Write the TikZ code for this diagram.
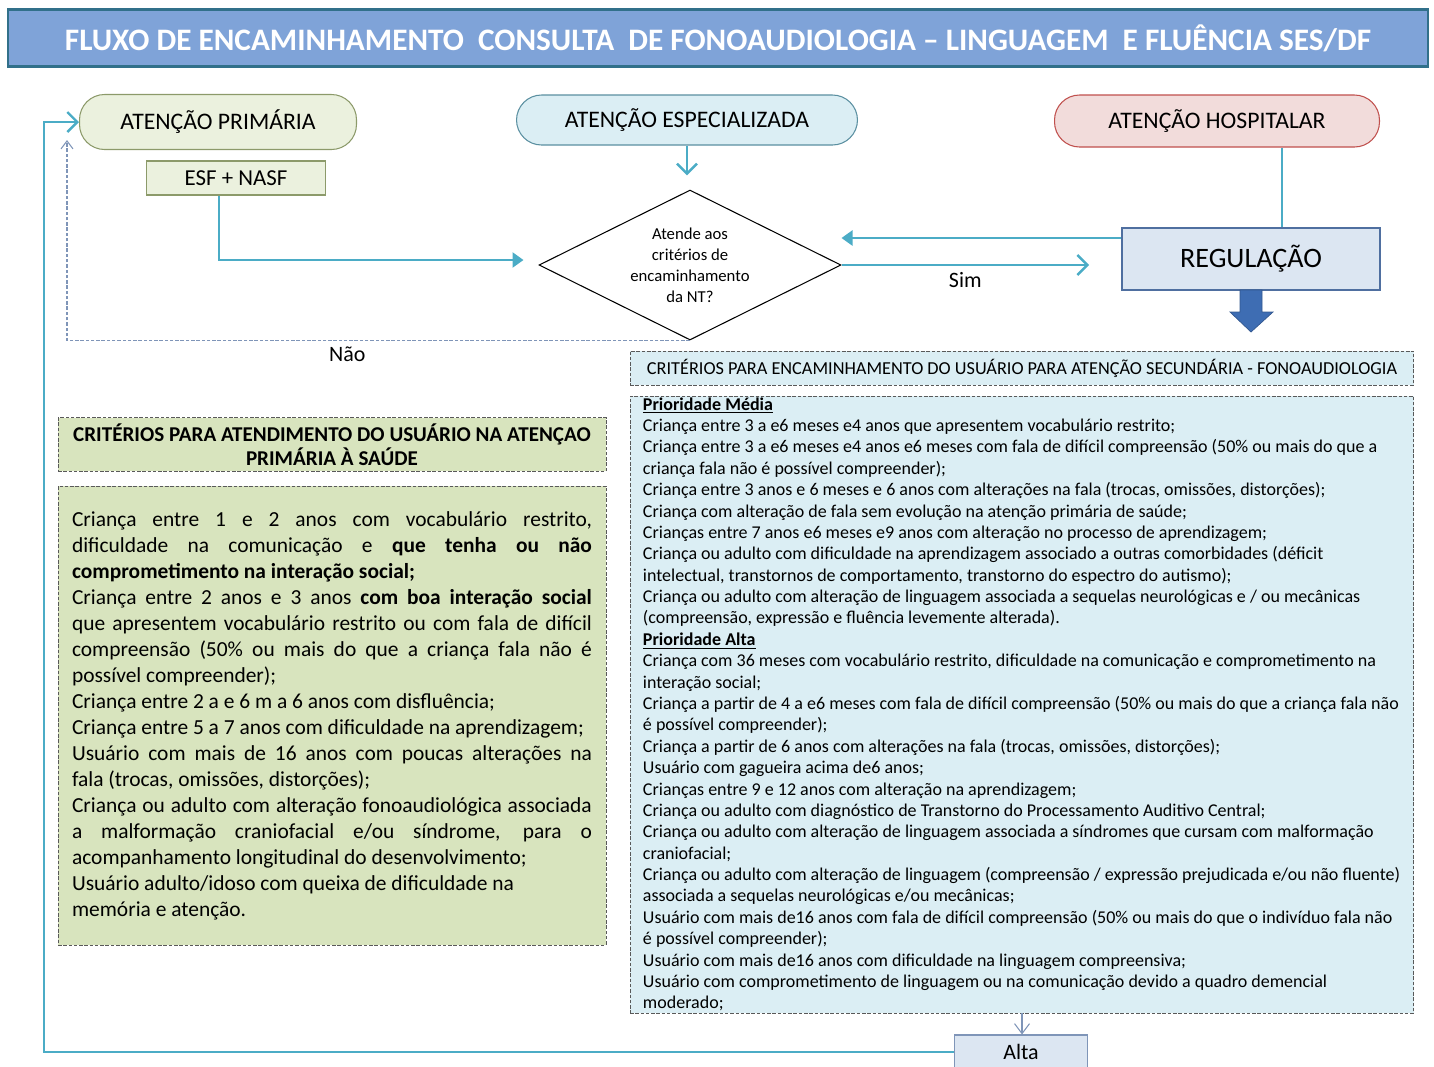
\documentclass[tikz,border=0pt]{standalone}
\usepackage{fontspec}
\setmainfont{Carlito}
\usetikzlibrary{arrows.meta}
\usetikzlibrary{shapes.geometric}

\definecolor{tealline}{HTML}{4BACC6}
\definecolor{titlefill}{HTML}{7FA3D8}
\definecolor{titleedge}{HTML}{31708A}
\definecolor{olivefill}{HTML}{EBF1DE}
\definecolor{oliveedge}{HTML}{8C9A6A}
\definecolor{olivebox}{HTML}{D8E4BE}
\definecolor{bluefill}{HTML}{DBEEF4}
\definecolor{blueedge}{HTML}{5A8FA0}
\definecolor{pinkfill}{HTML}{F2DCDB}
\definecolor{pinkedge}{HTML}{C0504D}
\definecolor{regfill}{HTML}{DCE6F2}
\definecolor{regedge}{HTML}{4F6FA0}
\definecolor{bigarrow}{HTML}{3E6DB3}
\definecolor{naoline}{HTML}{7F95B8}

\tikzset{
  pill/.style={draw=#1, line width=0.6pt, rounded corners=0.5cm, minimum height=1.04cm,
    font=\fontsize{13.5}{16}\selectfont},
  plainbox/.style={draw=#1, line width=0.6pt, font=\fontsize{13}{16}\selectfont},
  critbox/.style={draw=black!65, dashed, dash pattern=on 2pt off 1pt, line width=0.5pt},
  tealarrow/.style={draw=tealline, line width=1.4pt, -{Straight Barb[length=2mm,width=4mm]}},
  tealfill/.style={draw=tealline, line width=1.4pt, -{Triangle[length=2.2mm,width=3mm]}},
  tealplain/.style={draw=tealline, line width=1.4pt},
  naodash/.style={draw=naoline, line width=0.6pt, dash pattern=on 2pt off 1pt,
    -{Straight Barb[length=1.6mm,width=2.4mm]}},
  altaarrow/.style={draw=naoline, line width=0.6pt, -{Straight Barb[length=2mm,width=3mm]}},
  flowlabel/.style={font=\fontsize{12.5}{15}\selectfont}
}

\begin{document}
\begin{tikzpicture}[x=0.02cm,y=-0.02cm]
	\useasboundingbox (0,0) rectangle (1434,1066);
	%Title bar
	\node [draw=titleedge, line width=1.3pt, fill=titlefill, minimum width=28.4cm, minimum height=1.14cm,
	  text=white, font=\bfseries\fontsize{17.8}{20}\selectfont] (title) at (718,38)
	  {FLUXO DE ENCAMINHAMENTO\ \ CONSULTA\ \ DE FONOAUDIOLOGIA -- LINGUAGEM\ \ E FLUÊNCIA SES/DF};

	%Levels of care
	\node [pill=oliveedge, fill=olivefill, minimum width=5.54cm, minimum height=1.1cm] (prim) at (218,122) {ATENÇÃO PRIMÁRIA};
	\node [plainbox=oliveedge, fill=olivefill, minimum width=3.58cm, minimum height=0.68cm] (esf) at (236,178) {ESF + NASF};
	\node [pill=blueedge, fill=bluefill, minimum width=6.82cm, minimum height=1cm] (esp) at (687,120) {ATENÇÃO ESPECIALIZADA};
	\node [pill=pinkedge, fill=pinkfill, minimum width=6.5cm] (hosp) at (1217,121) {ATENÇÃO HOSPITALAR};

	%Decision
	\node [draw, diamond, aspect=2, line width=0.6pt, fill=white, minimum width=6.04cm, minimum height=3cm, inner sep=0pt,
	  align=center, font=\fontsize{9.5}{12}\selectfont] (nt) at (690,265)
	  {Atende aos\\critérios de\\encaminhamento\\da NT?};

	%Regulation
	\node [plainbox=regedge, fill=regfill, line width=1pt, minimum width=5.16cm, minimum height=1.24cm,
	  font=\fontsize{16}{19}\selectfont] (reg) at (1251,259) {REGULAÇÃO};
	\fill [bigarrow, draw=bigarrow!80!black, line width=0.4pt] (1240,290) -- (1240,312) -- (1230,312) -- (1251,332)
	  -- (1273,312) -- (1262,312) -- (1262,290) -- cycle;

	%Connections at the top
	\draw [tealarrow, shorten >=8pt] (esp.south) -- (esp.south |- nt.north);
	\draw [tealfill, shorten >=0.3cm] ([xshift=-0.34cm]esf.south) |- ([yshift=0.1cm]nt.west);
	\draw [tealfill] ([yshift=0.42cm]reg.west) -- ([yshift=0.42cm]reg.west -| nt.east);
	\draw [tealarrow] (nt.east) -- ([xshift=-0.64cm]reg.west |- nt.east)
	  node [flowlabel, midway, below=0pt] (sim) {Sim};
	\draw [tealplain] ([xshift=1.3cm]hosp.south) -- ([xshift=1.3cm]hosp.south |- reg.north);

	%Answer no
	\coordinate (naoend) at (67,140);
	\draw [naodash] (nt.south) -| (naoend)
	  node [flowlabel, pos=0.275, below=0pt] (nao) {Não};

	%Criteria of primary care
	\node [critbox, fill=olivebox, minimum width=10.96cm, minimum height=1.02cm, align=center,
	  font=\bfseries\fontsize{12}{13.8}\selectfont] (lhead) at (332,444.5)
	  {CRITÉRIOS PARA ATENDIMENTO DO USUÁRIO NA ATENÇAO\\PRIMÁRIA À SAÚDE};
	\node [critbox, fill=olivebox, minimum width=10.96cm, minimum height=9.18cm, inner xsep=0.28cm,
	  text width=10.4cm, align=justify, font=\fontsize{12.2}{14.8}\selectfont] (lbody) at (332,715.5)
	  {Criança entre 1 e 2 anos com vocabulário restrito,\linebreak
	  dificuldade na comunicação e \textbf{que tenha ou não}\linebreak
	  \textbf{comprometimento na interação social;}\par
	  Criança entre 2 anos e 3 anos \textbf{com boa interação social}\linebreak
	  que apresentem vocabulário restrito ou com fala de difícil\linebreak
	  compreensão (50\% ou mais do que a criança fala não é\linebreak
	  possível compreender);\par
	  Criança entre 2 a e 6 m a 6 anos com disfluência;\par
	  Criança entre 5 a 7 anos com dificuldade na aprendizagem;\par
	  Usuário com mais de 16 anos com poucas alterações na\linebreak
	  fala (trocas, omissões, distorções);\par
	  Criança ou adulto com alteração fonoaudiológica associada\linebreak
	  a malformação craniofacial e/ou síndrome, para o\linebreak
	  acompanhamento longitudinal do desenvolvimento;\par
	  Usuário adulto/idoso com queixa de dificuldade na\\
	  memória e atenção.};

	%Criteria of secondary care
	\node [critbox, fill=bluefill, minimum width=15.68cm, minimum height=0.68cm,
	  font=\fontsize{10.4}{12}\selectfont] (rhead) at (1022,368)
	  {CRITÉRIOS PARA ENCAMINHAMENTO DO USUÁRIO PARA ATENÇÃO SECUNDÁRIA - FONOAUDIOLOGIA};
	\node [critbox, fill=bluefill, minimum width=15.68cm, minimum height=12.34cm] (rbody) at (1022,704.5) {};
	\node [anchor=north west, inner sep=0pt, align=left, font=\fontsize{10.25}{12.17}\selectfont] (rtext)
	  at ([xshift=0.26cm,yshift=-0.03cm]rbody.north west)
	  {\underline{\textbf{Prioridade Média}}\\
	  Criança entre 3 a e6 meses e4 anos que apresentem vocabulário restrito;\\
	  Criança entre 3 a e6 meses e4 anos e6 meses com fala de difícil compreensão (50\% ou mais do que a\\
	  criança fala não é possível compreender);\\
	  Criança entre 3 anos e 6 meses e 6 anos com alterações na fala (trocas, omissões, distorções);\\
	  Criança com alteração de fala sem evolução na atenção primária de saúde;\\
	  Crianças entre 7 anos e6 meses e9 anos com alteração no processo de aprendizagem;\\
	  Criança ou adulto com dificuldade na aprendizagem associado a outras comorbidades (déficit\\
	  intelectual, transtornos de comportamento, transtorno do espectro do autismo);\\
	  Criança ou adulto com alteração de linguagem associada a sequelas neurológicas e / ou mecânicas\\
	  (compreensão, expressão e fluência levemente alterada).\\
	  \underline{\textbf{Prioridade Alta}}\\
	  Criança com 36 meses com vocabulário restrito, dificuldade na comunicação e comprometimento na\\
	  interação social;\\
	  Criança a partir de 4 a e6 meses com fala de difícil compreensão (50\% ou mais do que a criança fala não\\
	  é possível compreender);\\
	  Criança a partir de 6 anos com alterações na fala (trocas, omissões, distorções);\\
	  Usuário com gagueira acima de6 anos;\\
	  Crianças entre 9 e 12 anos com alteração na aprendizagem;\\
	  Criança ou adulto com diagnóstico de Transtorno do Processamento Auditivo Central;\\
	  Criança ou adulto com alteração de linguagem associada a síndromes que cursam com malformação\\
	  craniofacial;\\
	  Criança ou adulto com alteração de linguagem (compreensão / expressão prejudicada e/ou não fluente)\\
	  associada a sequelas neurológicas e/ou mecânicas;\\
	  Usuário com mais de16 anos com fala de difícil compreensão (50\% ou mais do que o indivíduo fala não\\
	  é possível compreender);\\
	  Usuário com mais de16 anos com dificuldade na linguagem compreensiva;\\
	  Usuário com comprometimento de linguagem ou na comunicação devido a quadro demencial\\
	  moderado;};

	%Discharge and return to primary care
	\node [plainbox=naoline, fill=regfill, minimum width=2.66cm, minimum height=0.68cm, font=\fontsize{12.5}{15}\selectfont] (alta) at (1021,1052) {Alta};
	\draw [altaarrow] (rbody.south) -- (rbody.south |- alta.north);
	\coordinate (retcorner) at (44,1052);
	\draw [tealarrow] (alta.west) -- (retcorner) |- (prim.west);
\end{tikzpicture}
\end{document}
